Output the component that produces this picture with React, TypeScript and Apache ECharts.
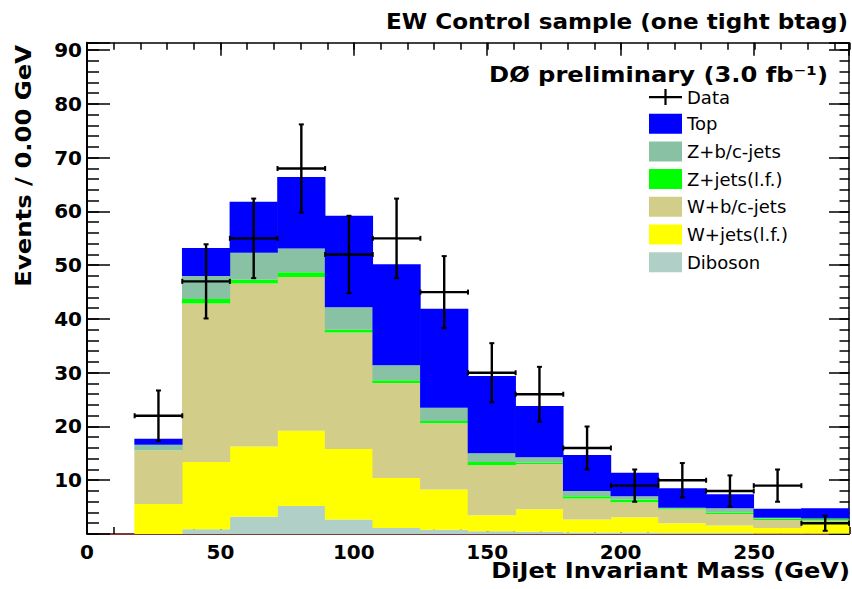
import React, { useEffect, useRef } from 'react';
import * as echarts from 'echarts';

// ---- data ----
const binCenters = [26.78, 44.63, 62.48, 80.33, 98.18, 116.03, 133.88, 151.73, 169.58, 187.43, 205.28, 223.13, 240.98, 258.83, 276.68];
const binWidth = 17.85;
const xMax = 285.6;
const yMax = 91.4;

const diboson = [0, 0.9, 3.2, 5.2, 2.7, 1.1, 0.8, 0.5, 0.4, 0.3, 0.3, 0.2, 0.2, 0.1, 0.1];
const wjetsLF = [5.6, 12.5, 13.1, 14.0, 13.1, 9.3, 7.5, 3.0, 4.2, 2.4, 2.8, 1.8, 1.4, 1.0, 1.8];
const wbcJets = [10.0, 29.5, 30.3, 28.6, 21.7, 17.7, 12.3, 9.3, 8.4, 3.9, 2.8, 2.6, 2.1, 1.5, 0.6];
const zjetsLF = [0.0, 0.8, 0.7, 0.9, 0.5, 0.5, 0.4, 0.6, 0.3, 0.4, 0.5, 0.2, 0.3, 0.3, 0.3];
const zbcJets = [1.0, 4.3, 5.0, 4.4, 4.2, 2.8, 2.5, 1.6, 1.0, 1.0, 0.6, 0.1, 0.8, 0.1, 0.1];
const topQ = [1.1, 5.2, 9.5, 13.3, 17.0, 18.8, 18.4, 14.4, 9.5, 6.7, 4.4, 3.6, 2.6, 1.7, 1.9];

const dataValues = [22, 47, 55, 68, 52, 55, 45, 30, 26, 16, 9, 10, 8, 9, 2];
const dataErrors = [4.7, 6.9, 7.4, 8.2, 7.2, 7.4, 6.7, 5.5, 5.1, 4.0, 3.0, 3.2, 2.9, 3.0, 1.4];

const components = [
  { name: 'Diboson', values: diboson, color: '#b0cfc6' },
  { name: 'W+jets(l.f.)', values: wjetsLF, color: '#ffff00' },
  { name: 'W+b/c-jets', values: wbcJets, color: '#d3cd8a' },
  { name: 'Z+jets(l.f.)', values: zjetsLF, color: '#00ff00' },
  { name: 'Z+b/c-jets', values: zbcJets, color: '#88c1a3' },
  { name: 'Top', values: topQ, color: '#0000ff' },
];

const legendOrder = ['Top', 'Z+b/c-jets', 'Z+jets(l.f.)', 'W+b/c-jets', 'W+jets(l.f.)', 'Diboson'];

const FONT = '"DejaVu Sans", "Liberation Sans", Arial, sans-serif';

function buildOption() {
  const cum = binCenters.map(() => 0);
  const histSeries = components.map((comp) => {
    const data = binCenters.map((c, i) => {
      const base = cum[i];
      const top = base + comp.values[i];
      cum[i] = top;
      return [c - binWidth / 2, c + binWidth / 2, base, top];
    });
    return {
      type: 'custom',
      name: comp.name,
      xAxisIndex: 0,
      yAxisIndex: 0,
      itemStyle: { color: comp.color },
      encode: { x: [0, 1], y: [2, 3] },
      data,
      renderItem: (params: any, api: any) => {
        const lo = api.value(0);
        const hi = api.value(1);
        const b = api.value(2);
        const t = api.value(3);
        if (t - b <= 0) return null;
        const p0 = api.coord([lo, t]);
        const p1 = api.coord([hi, b]);
        return {
          type: 'rect',
          shape: { x: p0[0] - 0.3, y: p0[1], width: p1[0] - p0[0] + 0.6, height: p1[1] - p0[1] },
          style: { fill: comp.color, stroke: null },
        };
      },
    };
  });

  const dataSeries = {
    type: 'custom',
    name: 'Data',
    xAxisIndex: 0,
    yAxisIndex: 0,
    itemStyle: { color: '#000' },
    encode: { x: 0, y: 1 },
    z: 10,
    data: binCenters.map((c, i) => [c, dataValues[i], dataErrors[i]]),
    renderItem: (params: any, api: any) => {
      const c = api.value(0);
      const v = api.value(1);
      const e = api.value(2);
      const hw = binWidth / 2;
      const pl = api.coord([c - hw, v]);
      const pr = api.coord([c + hw, v]);
      const pt = api.coord([c, v + e]);
      const pb = api.coord([c, v - e]);
      const cap = 2.5;
      const st = { stroke: '#000', lineWidth: 2.4 };
      const capSt = { stroke: '#000', lineWidth: 2 };
      return {
        type: 'group',
        children: [
          { type: 'line', shape: { x1: pl[0], y1: pl[1], x2: pr[0], y2: pr[1] }, style: st },
          { type: 'line', shape: { x1: pt[0], y1: pt[1], x2: pb[0], y2: pb[1] }, style: st },
          { type: 'line', shape: { x1: pl[0], y1: pl[1] - cap, x2: pl[0], y2: pl[1] + cap }, style: capSt },
          { type: 'line', shape: { x1: pr[0], y1: pr[1] - cap, x2: pr[0], y2: pr[1] + cap }, style: capSt },
          { type: 'line', shape: { x1: pt[0] - cap, y1: pt[1], x2: pt[0] + cap, y2: pt[1] }, style: capSt },
          { type: 'line', shape: { x1: pb[0] - cap, y1: pb[1], x2: pb[0] + cap, y2: pb[1] }, style: capSt },
        ],
      };
    },
  };

  const gridRect = { left: 87, right: 2.5, top: 42.7, bottom: 55 };
  const tickStyle = { color: '#000', width: 1.5 };
  const noLabel = { show: false };

  const xLabelFmt = (v: number) => (Math.abs(v % 50) < 1e-6 ? String(v) : '');
  const yLabelFmt = (v: number) => (v > 0 && Math.abs(v % 10) < 1e-6 ? String(v) : '');

  const labelStyle = { fontFamily: FONT, fontWeight: 'bold', fontSize: 20, color: '#000' };

  return {
    animation: false,
    backgroundColor: '#fff',
    grid: [gridRect, gridRect],
    xAxis: [
      {
        gridIndex: 0, type: 'value', position: 'bottom', min: 0, max: xMax, interval: 50,
        axisLine: { show: true, onZero: false, lineStyle: { color: '#7a3a3a', width: 2 } },
        axisTick: { show: true, inside: true, length: 13, lineStyle: tickStyle },
        axisLabel: { ...labelStyle, margin: 8, formatter: xLabelFmt },
        splitLine: { show: false },
      },
      {
        gridIndex: 0, type: 'value', position: 'top', min: 0, max: xMax, interval: 50,
        axisLine: { show: true, onZero: false, lineStyle: { color: '#000', width: 1.5 } },
        axisTick: { show: true, inside: true, length: 13, lineStyle: tickStyle },
        axisLabel: noLabel, splitLine: { show: false },
      },
      {
        gridIndex: 1, type: 'value', position: 'bottom', min: 0, max: xMax, interval: 10,
        axisLine: { show: false, onZero: false },
        axisTick: { show: true, inside: true, length: 7, lineStyle: tickStyle },
        axisLabel: noLabel, splitLine: { show: false },
      },
      {
        gridIndex: 1, type: 'value', position: 'top', min: 0, max: xMax, interval: 10,
        axisLine: { show: false, onZero: false },
        axisTick: { show: true, inside: true, length: 7, lineStyle: tickStyle },
        axisLabel: noLabel, splitLine: { show: false },
      },
    ],
    yAxis: [
      {
        gridIndex: 0, type: 'value', position: 'left', min: 0, max: yMax, interval: 10,
        axisLine: { show: true, onZero: false, lineStyle: { color: '#000', width: 2 } },
        axisTick: { show: true, inside: true, length: 23, lineStyle: tickStyle },
        axisLabel: { ...labelStyle, margin: 5, formatter: yLabelFmt },
        splitLine: { show: false },
      },
      {
        gridIndex: 0, type: 'value', position: 'right', min: 0, max: yMax, interval: 10,
        axisLine: { show: true, onZero: false, lineStyle: { color: '#000', width: 1.5 } },
        axisTick: { show: true, inside: true, length: 20, lineStyle: tickStyle },
        axisLabel: noLabel, splitLine: { show: false },
      },
      {
        gridIndex: 1, type: 'value', position: 'left', min: 0, max: yMax, interval: 2,
        axisLine: { show: false, onZero: false },
        axisTick: { show: true, inside: true, length: 12, lineStyle: tickStyle },
        axisLabel: noLabel, splitLine: { show: false },
      },
      {
        gridIndex: 1, type: 'value', position: 'right', min: 0, max: yMax, interval: 2,
        axisLine: { show: false, onZero: false },
        axisTick: { show: true, inside: true, length: 10, lineStyle: tickStyle },
        axisLabel: noLabel, splitLine: { show: false },
      },
    ],
    legend: {
      orient: 'vertical',
      left: 649,
      top: 88,
      padding: 0,
      itemWidth: 33,
      itemHeight: 20,
      itemGap: 7.7,
      itemStyle: { borderWidth: 0 },
      symbolKeepAspect: true,
      textStyle: { fontFamily: FONT, fontSize: 18, color: '#000', padding: [0, 0, 0, 0] },
      selectedMode: false,
      data: [
        { name: 'Data', icon: 'path://M0,7h33v2.2h-33z M15.4,0h2.2v16h-2.2z' },
        ...legendOrder.map((n) => ({ name: n, icon: 'rect' })),
      ],
    },
    graphic: [
      {
        type: 'text', x: 848, y: 21.5, scaleX: 1.1, z: 100,
        style: {
          text: 'EW Control sample (one tight btag)',
          font: `bold 21px ${FONT}`, fill: '#000',
          textAlign: 'right', textVerticalAlign: 'middle',
        },
      },
      {
        type: 'text', x: 828, y: 74, scaleX: 1.1, z: 100,
        style: {
          text: 'DØ preliminary (3.0 fb⁻¹)',
          font: `bold 22px ${FONT}`, fill: '#000',
          textAlign: 'right', textVerticalAlign: 'middle',
        },
      },
      {
        type: 'text', x: 850, y: 570.5, scaleX: 1.12, z: 100,
        style: {
          text: 'DiJet Invariant Mass (GeV)',
          font: `bold 21.5px ${FONT}`, fill: '#000',
          textAlign: 'right', textVerticalAlign: 'middle',
        },
      },
      {
        type: 'text', x: 24, y: 45, rotation: Math.PI / 2, scaleX: 1.13, z: 100,
        style: {
          text: 'Events / 0.00 GeV',
          font: `bold 21.5px ${FONT}`, fill: '#000',
          textAlign: 'right', textVerticalAlign: 'middle',
        },
      },
    ],
    series: [...histSeries, dataSeries],
  };
}

export default function App() {
  const ref = useRef<HTMLDivElement>(null);
  useEffect(() => {
    if (!ref.current) return;
    const chart = echarts.init(ref.current, undefined, { renderer: 'svg' });
    chart.setOption(buildOption() as any);
    return () => chart.dispose();
  }, []);
  return (
    <div
      ref={ref}
      style={{ position: 'fixed', left: 0, top: 0, width: 852, height: 589, background: '#fff' }}
    />
  );
}
